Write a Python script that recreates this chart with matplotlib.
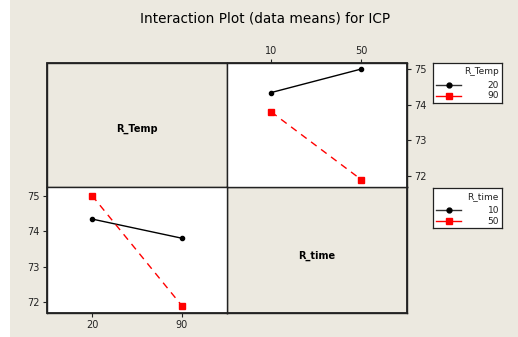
import matplotlib
matplotlib.use("Agg")
import matplotlib.pyplot as plt
from matplotlib.patches import Rectangle

# ---- data ----
temp_levels = ["20", "90"]
time_levels = ["10", "50"]
icp_temp20 = [74.34, 75.00]   # R_Temp=20 at R_time 10, 50
icp_temp90 = [73.80, 71.90]   # R_Temp=90 at R_time 10, 50
icp_time10 = [74.34, 73.80]   # R_time=10 at R_Temp 20, 90
icp_time50 = [75.00, 71.90]   # R_time=50 at R_Temp 20, 90
y_ticks = [72, 73, 74, 75]

BG = "#ECE9E0"
W, H = 518, 337
plt.rcParams['font.family'] = ['DejaVu Sans']
fig = plt.figure(figsize=(W / 100, H / 100), dpi=100, facecolor=BG)

fig.patches.append(Rectangle((0, 0), 10 / W, 1, transform=fig.transFigure,
                             facecolor="white", edgecolor="none", zorder=0))

def fx(px): return px / W
def fy(py): return 1 - py / H

x0, xm, x1 = 47, 227, 407
y0, ym, y1 = 63, 187, 313

fig.text(fx(265), fy(19), "Interaction Plot (data means) for ICP",
         ha="center", va="center", fontsize=9.8)

def mk_ax(l, t, r, b, face):
    ax = fig.add_axes([fx(l), fy(b), fx(r) - fx(l), fy(t) - fy(b)], facecolor=face)
    for s in ax.spines.values():
        s.set_linewidth(1.0)
        s.set_color("#222222")
    return ax

tick_kw = dict(labelsize=7, length=3, width=0.8, pad=2, colors="#222222")

ax_tl = mk_ax(x0, y0, xm, ym, BG)
ax_tl.set_xticks([]); ax_tl.set_yticks([])
ax_tl.text(0.5, 0.47, "R_Temp", ha="center", va="center", fontsize=7, fontweight="bold",
           transform=ax_tl.transAxes)

ax_br = mk_ax(xm, ym, x1, y1, BG)
ax_br.set_xticks([]); ax_br.set_yticks([])
ax_br.text(0.5, 0.45, "R_time", ha="center", va="center", fontsize=7, fontweight="bold",
           transform=ax_br.transAxes)

pos = [0, 1]
ax_tr = mk_ax(xm, y0, x1, ym, "white")
ax_tr.plot(pos, icp_temp20, color="black", lw=1.0, marker="o", ms=3)
ax_tr.plot(pos, icp_temp90, color="red", lw=1.0, ls=(0, (5, 4)), marker="s", ms=4)
ax_tr.set_xlim(-0.49, 1.51)
ax_tr.set_ylim(71.69, 75.17)
ax_tr.set_xticks(pos, time_levels)
ax_tr.set_yticks(y_ticks, [str(v) for v in y_ticks])
ax_tr.xaxis.tick_top()
ax_tr.yaxis.tick_right()
ax_tr.tick_params(**tick_kw)

ax_bl = mk_ax(x0, ym, xm, y1, "white")
ax_bl.plot(pos, icp_time10, color="black", lw=1.0, marker="o", ms=3)
ax_bl.plot(pos, icp_time50, color="red", lw=1.0, ls=(0, (5, 4)), marker="s", ms=4)
ax_bl.set_xlim(-0.5, 1.5)
ax_bl.set_ylim(71.70, 75.24)
ax_bl.set_xticks(pos, temp_levels)
ax_bl.set_yticks(y_ticks, [str(v) for v in y_ticks])
ax_bl.tick_params(**tick_kw)

fig.patches.append(Rectangle((fx(x0), fy(y1)), fx(x1) - fx(x0), fy(y0) - fy(y1),
                             transform=fig.transFigure, fill=False,
                             edgecolor="#222222", lw=1.3, zorder=10))

def legend_box(t, b, title, labels):
    lax = fig.add_axes([fx(433), fy(b), fx(502) - fx(433), fy(t) - fy(b)], facecolor="white")
    lax.set_xlim(0, 69); lax.set_ylim(0, 40)
    lax.invert_yaxis()
    lax.set_xticks([]); lax.set_yticks([])
    for s in lax.spines.values():
        s.set_linewidth(0.9); s.set_color("#222222")
    lax.text(66, 9, title, ha="right", va="center", fontsize=6.5, color="#222222")
    lax.plot([3, 28], [22, 22], color="#333333", lw=1.0)
    lax.plot([15.5], [22], color="black", marker="o", ms=3.5)
    lax.plot([3, 28], [33, 33], color="red", lw=1.0)
    lax.plot([15.5], [33], color="red", marker="s", ms=4)
    lax.text(66, 22, labels[0], ha="right", va="center", fontsize=6.5, color="#222222")
    lax.text(66, 33, labels[1], ha="right", va="center", fontsize=6.5, color="#222222")

legend_box(63, 103, "R_Temp", temp_levels)
legend_box(188, 228, "R_time", time_levels)

fig.savefig("out.png", dpi=100, facecolor=BG)
